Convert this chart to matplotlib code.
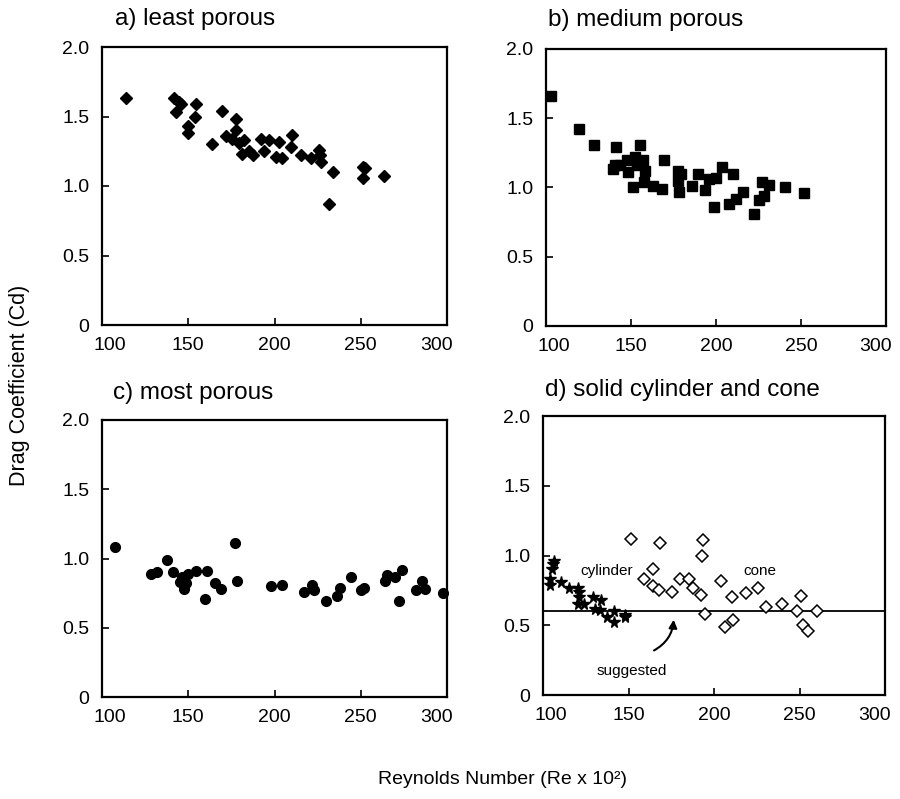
import matplotlib
matplotlib.use("Agg")
import matplotlib.pyplot as plt
from matplotlib.transforms import ScaledTranslation

plt.rcParams['font.family'] = ['Liberation Sans', 'DejaVu Sans']

# a) least porous
a_re = [114, 141.7, 144.6, 142.7, 145.8, 154.6, 154.2, 150, 150, 163.5, 169.7, 177.4,
        172, 175.5, 177.4, 179.3, 182.2, 181.3, 185.1, 187.5, 191.9, 193.8, 196.7,
        200.6, 202.5, 204.4, 210.2, 209.3, 215.1, 221.4, 225.7, 226.6, 227.2, 233.8,
        231.5, 251.2, 252.3, 251.2, 263.3]
a_cd = [1.63, 1.63, 1.605, 1.53, 1.59, 1.59, 1.50, 1.43, 1.38, 1.30, 1.54, 1.48,
        1.36, 1.34, 1.40, 1.31, 1.33, 1.23, 1.25, 1.22, 1.34, 1.25, 1.33,
        1.21, 1.32, 1.20, 1.37, 1.28, 1.22, 1.20, 1.26, 1.22, 1.17, 1.10,
        0.87, 1.14, 1.13, 1.06, 1.07]

# b) medium porous
b_re = [103, 119.7, 128.3, 141.1, 140.7, 139.7, 143.6, 147.5, 148.4, 152.3, 153.3,
        155.2, 157.2, 158.2, 151.4, 157.8, 163.0, 168.3, 169.4, 177.6, 177.6, 178.0,
        179.5, 185.7, 189.2, 193.5, 196.0, 200.0, 199.0, 203.8, 210.2, 207.7, 211.6,
        216.0, 222.2, 225.1, 228.1, 227.1, 231.0, 240.7, 251.7]
b_cd = [1.66, 1.42, 1.31, 1.29, 1.16, 1.13, 1.16, 1.20, 1.11, 1.22, 1.16,
        1.31, 1.20, 1.12, 1.00, 1.04, 1.01, 0.99, 1.20, 1.12, 1.05, 0.97,
        1.10, 1.01, 1.10, 0.98, 1.06, 1.07, 0.86, 1.15, 1.10, 0.88, 0.92,
        0.97, 0.81, 0.91, 0.94, 1.04, 1.02, 1.00, 0.96]

# c) most porous
c_re = [107.5, 128.3, 132.1, 137.9, 141.3, 145.2, 146.5, 148.8, 147.5, 150, 154.6,
        159.6, 160.6, 165.4, 169.2, 177.3, 178.5, 197.7, 204.6, 217.1, 221.5, 222.9,
        229.6, 236.0, 237.9, 244.2, 250, 251.7, 264.2, 265.2, 270, 271.9, 273.8,
        282.1, 285.4, 287.3, 297.5]
c_cd = [1.08, 0.885, 0.90, 0.99, 0.90, 0.83, 0.87, 0.825, 0.78, 0.89, 0.91,
        0.71, 0.91, 0.825, 0.78, 1.11, 0.84, 0.80, 0.81, 0.76, 0.81, 0.77,
        0.69, 0.73, 0.79, 0.87, 0.77, 0.79, 0.84, 0.88, 0.87, 0.69, 0.92,
        0.77, 0.84, 0.78, 0.75]

# d) solid cylinder and cone
cyl_re = [104.3, 103.9, 105.4, 105.8, 106.2, 110.7, 115.2, 120.4, 120.8, 120.8, 120.4,
          123.7, 129.2, 130.2, 134.0, 133.1, 137.4, 141.8, 141.8, 148.2, 147.7]
cyl_cd = [0.83, 0.79, 0.90, 0.94, 0.96, 0.81, 0.77, 0.77, 0.74, 0.70, 0.65,
          0.65, 0.70, 0.62, 0.68, 0.61, 0.56, 0.60, 0.52, 0.56, 0.57]
cone_re = [151.2, 158.8, 164.6, 164.2, 168.1, 168.7, 175.3, 180.2, 185.2, 187.9, 192.4,
           193.8, 193.0, 194.9, 204.1, 206.4, 210.3, 210.9, 218.7, 225.9, 230.4,
           239.5, 248.3, 250.8, 252.1, 254.7, 260.5]
cone_cd = [1.12, 0.83, 0.90, 0.78, 0.75, 1.09, 0.74, 0.83, 0.83, 0.77, 0.72,
           1.11, 1.00, 0.58, 0.82, 0.49, 0.70, 0.54, 0.73, 0.77, 0.63,
           0.65, 0.60, 0.71, 0.50, 0.46, 0.60]
suggested_cd = 0.6

xticks = [100, 150, 200, 250, 300]
yticks = [0, 0.5, 1.0, 1.5, 2.0]
ytick_labels = ['0', '0.5', '1.0', '1.5', '2.0']

W, H = 900, 799
fig = plt.figure(figsize=(W / 100, H / 100), dpi=100)


def make_ax(l, t, r, b):
    ax = fig.add_axes([l / W, 1 - b / H, (r - l) / W, (b - t) / H])
    ax.set_xlim(100, 300)
    ax.set_ylim(0, 2.0)
    ax.set_xticks(xticks)
    ax.set_yticks(yticks)
    ax.set_yticklabels(ytick_labels)
    ax.tick_params(direction='in', length=5, width=1.2, labelsize=14, pad=9)
    for s in ax.spines.values():
        s.set_linewidth(1.6)
    # end labels sit a little inside the axis ends, like the original
    labs = ax.get_xticklabels()
    labs[0].set_transform(labs[0].get_transform() +
                          ScaledTranslation(8 / 100, 0, fig.dpi_scale_trans))
    labs[-1].set_transform(labs[-1].get_transform() +
                           ScaledTranslation(-10 / 100, 0, fig.dpi_scale_trans))
    return ax


ax_a = make_ax(102, 47, 447, 325)
ax_b = make_ax(546, 49, 886, 326)
ax_c = make_ax(102, 420, 447, 697)
ax_d = make_ax(543, 416, 885, 695)

ax_a.plot(a_re, a_cd, 'D', color='black', ms=6.5, clip_on=False)
ax_b.plot(b_re, b_cd, 's', color='black', ms=7, clip_on=False)
ax_c.plot(c_re, c_cd, 'o', color='black', ms=7, clip_on=False)

ax_d.axhline(suggested_cd, color='black', lw=1.3)
ax_d.plot(cyl_re, cyl_cd, '*', color='black', ms=8.5, clip_on=False)
ax_d.plot(cone_re, cone_cd, 'D', mfc='white', mec='black', mew=1.1, ms=6.5,
          clip_on=False)
ax_d.text(137, 0.886, 'cylinder', ha='center', va='center', fontsize=11)
ax_d.text(227, 0.886, 'cone', ha='center', va='center', fontsize=11)
ax_d.text(152, 0.174, 'suggested', ha='center', va='center', fontsize=11)
ax_d.annotate('', xy=(176.5, 0.56), xytext=(163.5, 0.31),
              arrowprops=dict(arrowstyle='-|>', color='black', lw=1.5,
                              connectionstyle='arc3,rad=0.3', mutation_scale=12))

# panel titles
fig.text(115 / W, 1 - 19 / H, 'a) least porous', fontsize=17.5, va='center')
fig.text(548 / W, 1 - 20 / H, 'b) medium porous', fontsize=17.5, va='center')
fig.text(113 / W, 1 - 393 / H, 'c) most porous', fontsize=17.5, va='center')
fig.text(545 / W, 1 - 390 / H, 'd) solid cylinder and cone', fontsize=17.5, va='center')

fig.text(20 / W, 1 - 385 / H, 'Drag Coefficient (Cd)', rotation=90,
         fontsize=15.5, ha='center', va='center')
fig.text(378 / W, 1 - 780 / H, 'Reynolds Number (Re x 10²)', fontsize=14,
         ha='left', va='center')

fig.savefig('out.png', dpi=100)
